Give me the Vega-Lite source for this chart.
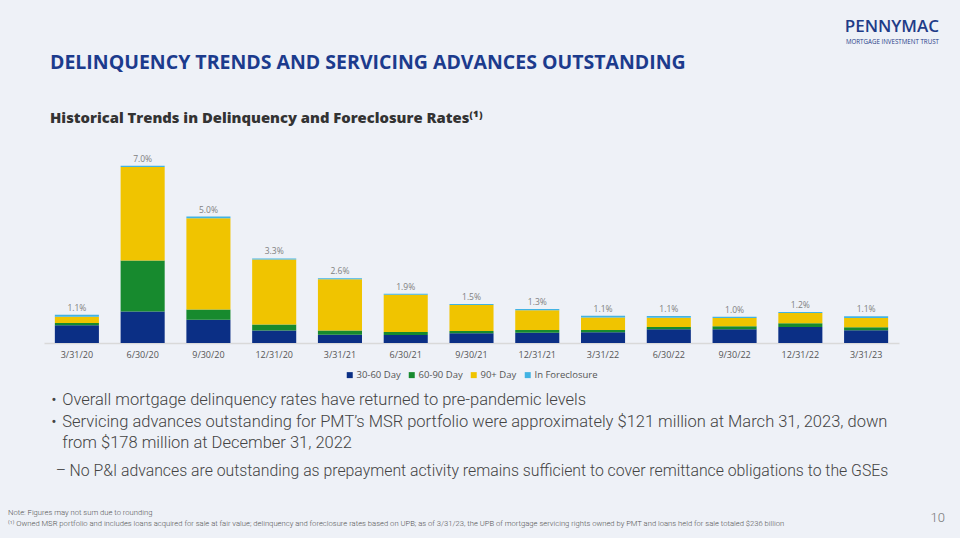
{
  "$schema": "https://vega.github.io/schema/vega-lite/v6.json",
  "background": "#eef1f7",
  "padding": {"left": 8, "top": 17, "right": 15, "bottom": 10},
  "spacing": 12,
  "resolve": {"legend": {"color": "independent"}},
  "title": {
    "text": "PENNYMAC",
    "subtitle": "MORTGAGE INVESTMENT TRUST",
    "anchor": "end",
    "frame": "group",
    "dx": 40,
    "font": "Open Sans",
    "fontSize": 17,
    "fontWeight": 600,
    "color": "#1f3c88",
    "subtitleFont": "Open Sans",
    "subtitleFontSize": 6.2,
    "subtitleColor": "#1f3c88",
    "subtitlePadding": 3,
    "offset": 7
  },
  "config": {
    "view": {"stroke": null},
    "font": "Open Sans",
    "legend": {"layout": {"bottom": {"anchor": "middle"}}}
  },
  "datasets": {
    "rates": [
      {"quarter": "3/31/20", "30-60 Day": 0.70, "60-90 Day": 0.09, "90+ Day": 0.25, "In Foreclosure": 0.08},
      {"quarter": "6/30/20", "30-60 Day": 1.24, "60-90 Day": 2.02, "90+ Day": 3.69, "In Foreclosure": 0.05},
      {"quarter": "9/30/20", "30-60 Day": 0.92, "60-90 Day": 0.40, "90+ Day": 3.60, "In Foreclosure": 0.07},
      {"quarter": "12/31/20", "30-60 Day": 0.49, "60-90 Day": 0.24, "90+ Day": 2.57, "In Foreclosure": 0.04},
      {"quarter": "3/31/21", "30-60 Day": 0.33, "60-90 Day": 0.16, "90+ Day": 2.03, "In Foreclosure": 0.04},
      {"quarter": "6/30/21", "30-60 Day": 0.32, "60-90 Day": 0.11, "90+ Day": 1.47, "In Foreclosure": 0.04},
      {"quarter": "9/30/21", "30-60 Day": 0.38, "60-90 Day": 0.09, "90+ Day": 1.03, "In Foreclosure": 0.04},
      {"quarter": "12/31/21", "30-60 Day": 0.40, "60-90 Day": 0.11, "90+ Day": 0.78, "In Foreclosure": 0.05},
      {"quarter": "3/31/22", "30-60 Day": 0.42, "60-90 Day": 0.09, "90+ Day": 0.50, "In Foreclosure": 0.07},
      {"quarter": "6/30/22", "30-60 Day": 0.54, "60-90 Day": 0.09, "90+ Day": 0.37, "In Foreclosure": 0.07},
      {"quarter": "9/30/22", "30-60 Day": 0.54, "60-90 Day": 0.12, "90+ Day": 0.33, "In Foreclosure": 0.05},
      {"quarter": "12/31/22", "30-60 Day": 0.63, "60-90 Day": 0.15, "90+ Day": 0.40, "In Foreclosure": 0.04},
      {"quarter": "3/31/23", "30-60 Day": 0.50, "60-90 Day": 0.12, "90+ Day": 0.37, "In Foreclosure": 0.07}
    ],
    "notes": [
      {"line": 1, "level": "bullet", "marker": "•", "text": "Overall mortgage delinquency rates have returned to pre-pandemic levels"},
      {"line": 2, "level": "bullet", "marker": "•", "text": "Servicing advances outstanding for PMT’s MSR portfolio were approximately $121 million at March 31, 2023, down"},
      {"line": 3, "level": "bullet", "marker": "", "text": "from $178 million at December 31, 2022"},
      {"line": 4, "level": "sub", "marker": "–", "text": "No P&I advances are outstanding as prepayment activity remains sufficient to cover remittance obligations to the GSEs"}
    ],
    "footnotes": [
      {"order": 1, "text": "Note: Figures may not sum due to rounding"},
      {"order": 2, "text": "⁽¹⁾ Owned MSR portfolio and includes loans acquired for sale at fair value; delinquency and foreclosure rates based on UPB; as of 3/31/23, the UPB of mortgage servicing rights owned by PMT and loans held for sale totaled $236 billion"}
    ]
  },
  "vconcat": [
    {
      "width": 855,
      "height": 190,
      "title": {
        "text": "DELINQUENCY TRENDS AND SERVICING ADVANCES OUTSTANDING",
        "subtitle": "Historical Trends in Delinquency and Foreclosure Rates⁽¹⁾",
        "anchor": "start",
        "dx": 6,
        "font": "Open Sans",
        "fontSize": 19.5,
        "fontWeight": "bold",
        "color": "#1c3b8d",
        "subtitleFont": "Open Sans",
        "subtitleFontSize": 14.8,
        "subtitleFontWeight": 800,
        "subtitleColor": "#333333",
        "subtitlePadding": 38,
        "offset": 26
      },
      "data": {"name": "rates"},
      "transform": [
        {"fold": ["30-60 Day", "60-90 Day", "90+ Day", "In Foreclosure"], "as": ["status", "rate"]}
      ],
      "encoding": {
        "x": {
          "field": "quarter",
          "type": "ordinal",
          "sort": null,
          "scale": {"paddingInner": 0.33, "paddingOuter": 0.165},
          "axis": {
            "title": null,
            "labelAngle": 0,
            "labelFont": "Open Sans",
            "labelFontSize": 9,
            "labelColor": "#555555",
            "labelPadding": 7,
            "ticks": false,
            "domainColor": "#d9d9d9",
            "domainWidth": 1.5
          }
        }
      },
      "layer": [
        {
          "mark": {"type": "bar"},
          "encoding": {
            "y": {
              "field": "rate",
              "type": "quantitative",
              "stack": "zero",
              "scale": {"domain": [0, 7.5], "nice": false},
              "axis": null
            },
            "color": {
              "field": "status",
              "type": "nominal",
              "scale": {
                "domain": ["30-60 Day", "60-90 Day", "90+ Day", "In Foreclosure"],
                "range": ["#0b2f85", "#178a2e", "#f0c400", "#42b3e3"]
              },
              "legend": {
                "title": null,
                "orient": "bottom",
                "direction": "horizontal",
                "symbolType": "square",
                "symbolSize": 36,
                "symbolStrokeWidth": 0,
                "labelFont": "Open Sans",
                "labelFontSize": 9.5,
                "labelColor": "#555555",
                "labelOffset": 2,
                "columnPadding": 6,
                "offset": 11
              }
            },
            "order": {"field": "status", "sort": "ascending"}
          }
        },
        {
          "transform": [
            {"aggregate": [{"op": "sum", "field": "rate", "as": "total"}], "groupby": ["quarter"]},
            {"calculate": "format(datum.total, '.1f') + '%'", "as": "label"}
          ],
          "mark": {
            "type": "text",
            "baseline": "bottom",
            "dy": -2,
            "font": "Open Sans",
            "fontSize": 8.5,
            "color": "#808080"
          },
          "encoding": {
            "y": {"field": "total", "type": "quantitative"},
            "text": {"field": "label"}
          }
        }
      ]
    },
    {
      "width": 855,
      "height": 124,
      "resolve": {"scale": {"x": "independent", "y": "independent"}},
      "layer": [
        {
          "data": {"name": "notes"},
          "transform": [{"filter": "datum.level === 'bullet'"}],
          "mark": {"type": "text", "align": "left", "baseline": "middle", "font": "Roboto", "fontSize": 16.5, "fontWeight": 300, "color": "#444444"},
          "encoding": {
            "x": {"field": "level", "type": "nominal", "scale": {"type": "point", "domain": ["bullet", "sub"], "range": [5, 14]}, "axis": null},
            "y": {"field": "line", "type": "ordinal", "scale": {"type": "point", "domain": [1, 2, 3, 4], "padding": 0, "range": [0, 64.5]}, "axis": null},
            "text": {"field": "marker"}
          }
        },
        {
          "data": {"name": "notes"},
          "transform": [{"filter": "datum.level === 'bullet'"}],
          "mark": {"type": "text", "align": "left", "baseline": "middle", "font": "Roboto", "fontSize": 16.5, "fontWeight": 300, "color": "#444444"},
          "encoding": {
            "x": {"field": "level", "type": "nominal", "scale": {"type": "point", "domain": ["bullet", "sub"], "range": [15, 28]}, "axis": null},
            "y": {"field": "line", "type": "ordinal", "scale": {"type": "point", "domain": [1, 2, 3, 4], "padding": 0, "range": [0, 64.5]}, "axis": null},
            "text": {"field": "text"}
          }
        },
        {
          "data": {"name": "notes"},
          "transform": [{"filter": "datum.level === 'sub'"}],
          "mark": {"type": "text", "align": "left", "baseline": "middle", "dy": 6.5, "font": "Roboto", "fontSize": 15.8, "fontWeight": 300, "color": "#444444"},
          "encoding": {
            "x": {"field": "level", "type": "nominal", "scale": {"type": "point", "domain": ["bullet", "sub"], "range": [5, 14]}, "axis": null},
            "y": {"field": "line", "type": "ordinal", "scale": {"type": "point", "domain": [1, 2, 3, 4], "padding": 0, "range": [0, 64.5]}, "axis": null},
            "text": {"field": "marker"}
          }
        },
        {
          "data": {"name": "notes"},
          "transform": [{"filter": "datum.level === 'sub'"}],
          "mark": {"type": "text", "align": "left", "baseline": "middle", "dy": 6.5, "font": "Roboto", "fontSize": 15.8, "fontWeight": 300, "color": "#444444"},
          "encoding": {
            "x": {"field": "level", "type": "nominal", "scale": {"type": "point", "domain": ["bullet", "sub"], "range": [15, 29]}, "axis": null},
            "y": {"field": "line", "type": "ordinal", "scale": {"type": "point", "domain": [1, 2, 3, 4], "padding": 0, "range": [0, 64.5]}, "axis": null},
            "text": {"field": "text"}
          }
        },
        {
          "data": {"name": "footnotes"},
          "mark": {"type": "text", "align": "left", "baseline": "middle", "dx": -36, "font": "Roboto", "fontSize": 7.65, "fontWeight": 300, "color": "#555555"},
          "encoding": {
            "x": {"datum": 0, "type": "quantitative", "scale": {"domain": [0, 1]}, "axis": null},
            "y": {"field": "order", "type": "ordinal", "scale": {"type": "point", "domain": [1, 2], "padding": 0, "range": [113, 124]}, "axis": null},
            "text": {"field": "text"}
          }
        },
        {
          "data": {"values": [{"page": "10"}]},
          "mark": {"type": "text", "align": "right", "baseline": "middle", "dx": 46, "dy": -6, "font": "Roboto", "fontSize": 13, "fontWeight": 300, "color": "#777777"},
          "encoding": {
            "x": {"datum": 1, "type": "quantitative", "scale": {"domain": [0, 1]}, "axis": null},
            "y": {"datum": 0, "type": "quantitative", "scale": {"domain": [0, 1]}, "axis": null},
            "text": {"field": "page"}
          }
        }
      ]
    }
  ]
}
